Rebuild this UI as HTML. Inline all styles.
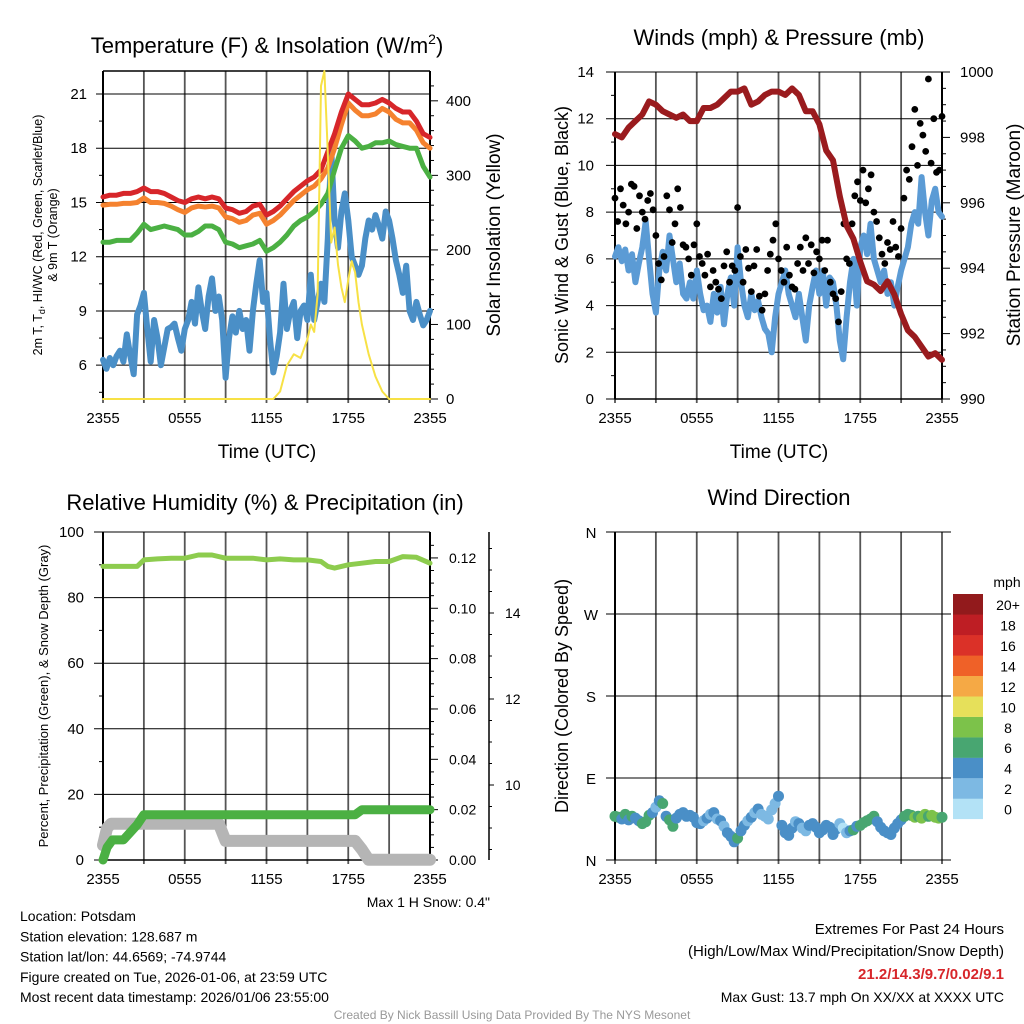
<!DOCTYPE html>
<html><head><meta charset="utf-8"><style>
body{margin:0;background:#fff;}
svg{display:block;font-family:"Liberation Sans",sans-serif;}
</style></head><body>
<svg id="fig" width="1024" height="1024" viewBox="0 0 1024 1024">
<rect width="1024" height="1024" fill="#fff"/>
</svg>
<script>
// ---- data ----
const hours15 = Array.from({length:97},(_,i)=>i*0.25);
const hours30 = Array.from({length:49},(_,i)=>i*0.5);
const hours12 = Array.from({length:121},(_,i)=>i*0.2);
const tempRed = [15.3,15.4,15.4,15.5,15.5,15.6,15.8,15.6,15.6,15.5,15.3,15.1,15.0,15.2,15.3,15.2,15.3,15.2,14.7,14.6,14.4,14.5,14.8,14.9,14.3,14.5,14.8,15.2,15.6,15.9,16.2,16.4,16.8,17.8,18.8,20.0,21.0,20.7,20.4,20.4,20.5,20.7,20.5,20.2,20.0,20.0,19.5,18.8,18.6];
const tempOrange = [14.85,14.9,14.9,14.95,14.95,15.0,15.25,15.0,15.0,14.95,14.8,14.6,14.45,14.7,14.8,14.75,14.8,14.7,14.2,14.1,13.9,14.0,14.3,14.4,13.8,14.0,14.3,14.7,15.1,15.4,15.7,15.9,16.3,16.9,18.0,19.3,20.5,20.1,19.8,19.8,19.9,20.2,20.0,19.6,19.4,19.4,19.0,18.3,18.0];
const tempGreen = [12.8,12.8,12.9,12.9,12.9,13.3,13.8,13.5,13.6,13.7,13.6,13.5,13.2,13.2,13.4,13.7,13.7,13.5,12.8,12.7,12.5,12.6,12.7,12.9,12.3,12.5,12.8,13.2,13.7,14.0,14.2,14.5,14.9,15.5,16.8,18.0,18.7,18.4,18.0,18.1,18.3,18.3,18.4,18.2,18.1,18.0,18.0,17.0,16.4];
const dewBlue = [6.3,5.8,6.4,6.0,6.5,6.8,6.2,7.7,6.5,5.5,8.8,9.3,10.0,8.0,6.2,8.5,7.5,6.0,7.0,8.0,8.1,8.3,7.5,6.8,8.0,8.5,9.5,8.3,10.3,9.0,8.0,9.8,10.8,9.0,9.8,8.5,5.3,7.5,8.7,7.8,9.0,8.0,8.5,6.8,9.0,10.5,11.8,9.5,10.0,7.5,5.6,6.5,7.8,10.5,8.0,9.0,9.5,7.5,9.0,9.3,8.5,11.0,8.5,9.5,10.5,9.5,13.0,18.0,14.0,12.5,14.5,15.5,14.0,12.0,11.5,11.0,11.5,13.0,14.0,13.5,14.3,13.7,13.0,14.5,14.0,13.0,11.8,11.0,10.0,11.5,9.0,8.5,9.5,8.8,8.2,8.5,9.0];
const solarHours = [0,12.5,13,13.5,14,14.5,15,15.25,15.5,15.75,16,16.25,16.5,16.75,17,17.25,17.5,17.75,18,18.25,18.5,18.75,19,19.5,20,20.5,21,24];
const solarValues = [0,0,10,45,60,55,80,100,90,140,420,440,330,210,230,180,150,130,160,185,170,130,100,60,30,10,0,0];
const windBlue = [6.1,6.5,5.9,6.4,5.5,6.2,5.0,5.8,6.5,7.6,6.0,4.5,3.7,5.5,6.3,5.5,7.0,6.0,5.0,5.8,4.5,4.3,5.0,4.3,5.5,4.5,3.8,4.0,3.3,4.5,3.7,4.8,3.2,4.5,5.2,4.0,6.5,5.0,4.0,3.5,4.5,3.8,4.2,3.5,3.0,2.8,2.0,3.5,4.5,5.0,5.5,4.5,4.0,3.5,4.5,3.5,2.5,4.0,4.8,5.5,4.5,5.5,4.0,5.2,5.0,4.0,2.5,1.7,3.5,5.0,6.0,4.0,6.5,7.0,6.2,7.5,6.0,5.5,5.0,5.5,4.5,5.0,4.0,4.8,5.5,6.0,6.5,7.5,8.0,7.5,9.5,8.0,7.0,8.5,9.0,8.0,7.8];
const gustBlack = [8.6,7.6,9.0,8.3,7.5,8.0,9.2,9.1,7.3,8.7,8.0,7.7,8.5,8.8,8.1,7.0,5.8,5.1,6.1,8.7,8.1,6.7,7.5,9.0,8.2,6.6,6.5,6.0,5.3,6.6,7.5,6.1,5.8,5.3,6.2,4.8,5.5,5.0,4.7,4.3,5.7,6.3,5.0,5.7,5.5,8.2,6.1,5.0,6.4,5.6,4.6,5.7,6.4,4.4,3.8,4.5,5.5,6.2,6.8,7.5,6.0,5.5,5.0,6.5,5.3,4.8,4.7,5.8,6.5,5.5,6.9,5.8,6.6,5.4,6.3,6.0,6.8,5.5,6.8,5.0,4.5,4.3,3.3,4.6,7.5,6.0,5.8,7.5,8.7,9.3,8.5,9.8,8.4,9.0,9.6,8.0,7.6,6.9,6.2,5.8,6.7,6.4,7.6,6.5,6.1,7.3,8.6,9.8,9.4,10.8,12.4,10.0,11.8,11.3,10.6,13.7,10.1,12.0,9.7,9.8,12.1];
const pressure = [998.1,998.0,998.3,998.5,998.7,999.1,999.0,998.8,998.7,998.6,998.7,998.5,998.5,998.9,998.9,999.0,999.2,999.4,999.4,999.5,999.0,999.1,999.3,999.4,999.4,999.3,999.5,999.3,998.8,998.8,998.4,997.6,997.3,996.2,995.3,994.9,994.2,993.6,993.5,993.3,993.6,993.2,992.6,992.1,991.9,991.6,991.3,991.4,991.2];
const rhHours = [0,1,2,2.5,3,4,5,6,7,8,9,10,11,12,13,14,15,16,16.5,17,18,19,20,21,22,23,24];
const rhValues = [89.5,89.5,89.5,89.5,91.5,91.8,92,92,93,93,92,92,92,91.5,91.8,91.5,91.5,91,89.5,89.0,90,90.5,91,91,92.5,92.3,90.5];
const precipHours = [0,0.3,0.7,1.5,2,2.5,3,18.5,19,24];
const precipValues = [0,0.005,0.008,0.008,0.011,0.014,0.018,0.018,0.020,0.020];
const snowHours = [0,0.3,0.6,8.5,9,18.5,19,19.5,24];
const snowValues = [8.6,9.0,9.1,9.1,8.7,8.7,8.5,8.26,8.26];
const windDir = [48,47,45,50,44,48,46,43,40,42,49,52,58,65,62,48,44,37,46,50,52,48,49,47,41,40,43,46,50,52,45,43,37,30,26,20,24,32,38,43,47,52,56,50,48,45,55,62,70,38,30,27,35,42,40,35,32,38,40,36,30,33,38,36,28,34,40,35,30,32,33,37,38,41,43,45,48,42,36,32,30,28,35,40,44,48,50,49,47,48,46,50,48,49,47,46,47];
const xTickLabels = ["2355","0555","1155","1755","2355"];
const cbLabels = ["0","2","4","6","8","10","12","14","16","18","20+"];
const cbColors = ["#b3e2f6","#7db9e3","#4a8fc7","#48a671","#7cc24a","#e6e05a","#f5a945","#ef6128","#db3128","#be1e24","#921a1c"];

// ---- helpers ----
const NS="http://www.w3.org/2000/svg";
const fig=document.getElementById('fig');
function mk(tag,attrs,parent){const e=document.createElementNS(NS,tag);for(const k in attrs)e.setAttribute(k,attrs[k]);(parent||fig).appendChild(e);return e;}
function txt(s,x,y,size,anchor,extra){const e=mk('text',Object.assign({x:x,y:y,'font-size':size,'text-anchor':anchor||'middle',fill:'#000'},extra||{}));e.textContent=s;return e;}
function lin(a,b,c,d,col,w){return mk('line',{x1:a,y1:b,x2:c,y2:d,stroke:col,'stroke-width':w});}
function scale(d0,d1,r0,r1){return v=>r0+(v-d0)/(d1-d0)*(r1-r0);}
const X0=103,X1=430,X2=615,X3=942;
const xL=scale(0,24,X0,X1), xR=scale(0,24,X2,X3);
function path(xs,ys,fx,fy,col,w,name){let d='';xs.forEach((h,i)=>{d+=(i?'L':'M')+fx(h).toFixed(1)+','+fy(ys[i]).toFixed(1);});const p=mk('path',{d:d,fill:'none',stroke:col,'stroke-width':w,'stroke-linejoin':'round','stroke-linecap':'round'});


return p;}
function vgrid(fx,y0,y1){for(let i=0;i<=8;i++){const x=fx(i*3);lin(x,y0,x,y1+4,'#555',1.8);}}
function xticks(fx,y){xTickLabels.forEach((s,i)=>{const t=txt(s,fx(i*6),y,15);

});}

// ---- Panel 1: temperature ----
const yT=scale(4.13,22.27,399,71), yS=scale(0,440,399,71);
vgrid(xL,71,399);
[6,9,12,15,18,21].forEach(v=>{lin(X0-7,yT(v),X1,yT(v),'#000',1);txt(String(v),87,yT(v)+5,15,'end');});
for(let v=4.5;v<22;v+=1.5){if(v%3)lin(X0-4,yT(v),X0,yT(v),'#000',1);}
[0,100,200,300,400].forEach(v=>{lin(X1,yS(v),X1+8,yS(v),'#000',1);txt(String(v),446,yS(v)+5,15,'start');});
for(let v=20;v<440;v+=20){if(v%100)lin(X1,yS(v),X1+4,yS(v),'#000',1);}
lin(X0,71,X1,71,'#000',1.5);lin(X0,71,X0,399,'#000',2);lin(X1,71,X1,399,'#000',2);lin(X0,399,X1,399,'#000',1.5);
path(hours15,dewBlue,xL,yT,'#4a8fc7',6,'dewpoint-line');
path(hours30,tempGreen,xL,yT,'#4bb043',5,'heat-index-line');
path(hours30,tempOrange,xL,yT,'#f5822f',5,'temp-9m-line');
path(hours30,tempRed,xL,yT,'#d7262a',5,'temp-2m-line');
path(solarHours,solarValues,xL,yS,'#f7e145',2,'insolation-line');
xticks(xL,423);
let tt=mk('text',{x:267,y:53,'font-size':22,'text-anchor':'middle'});


tt.innerHTML='Temperature (F) &amp; Insolation (W/m<tspan dy="-9" font-size="14">2</tspan><tspan dy="9">)</tspan>';
txt('Time (UTC)',267,458,19);
let g=mk('g',{transform:'translate(42,235) rotate(-90)'});
let t1=mk('text',{x:0,y:0,'font-size':12.5,'text-anchor':'middle'},g);
t1.innerHTML='2m T, T<tspan dy="3" font-size="9">d</tspan><tspan dy="-3">, HI/WC (Red, Green, Scarlet/Blue)</tspan>';
mk('text',{x:0,y:15,'font-size':12.5,'text-anchor':'middle'},g).textContent='& 9m T (Orange)';
g=mk('g',{transform:'translate(500,235) rotate(-90)'});
mk('text',{x:0,y:0,'font-size':19,'text-anchor':'middle'},g).textContent='Solar Insolation (Yellow)';

// ---- Panel 2: winds ----
const yW=scale(0,14,399,72), yP=scale(990,1000,399,72);
vgrid(xR,72,399);
[0,2,4,6,8,10,12,14].forEach(v=>{lin(X2-9,yW(v),X3,yW(v),'#000',1);txt(String(v),594,yW(v)+5,15,'end');});
for(let v=1;v<14;v+=2)lin(X2-4,yW(v),X2,yW(v),'#000',1);
[990,992,994,996,998,1000].forEach(v=>{lin(X3,yP(v),X3+8,yP(v),'#000',1);txt(String(v),960,yP(v)+5,15,'start');});
for(let v=990.5;v<1000;v+=0.5){if(v%2)lin(X3,yP(v),X3+4,yP(v),'#000',1);}
lin(X2,72,X2,399,'#000',2);lin(X3,72,X3,399,'#000',2);lin(X2,399,X3,399,'#000',1.5);
path(hours15,windBlue,xR,yW,'#5b9bd5',6,'sonic-wind-line');
gustBlack.forEach((v,i)=>{const c=mk('circle',{cx:xR(hours12[i]).toFixed(1),cy:yW(v).toFixed(1),r:3.4,fill:'#000'});

});
path(hours30,pressure,xR,yP,'#9a1b1e',6,'pressure-line');
xticks(xR,423);
txt('Winds (mph) & Pressure (mb)',779,45,22);
txt('Time (UTC)',779,458,19);
g=mk('g',{transform:'translate(568,235) rotate(-90)'});
mk('text',{x:0,y:0,'font-size':18,'text-anchor':'middle'},g).textContent='Sonic Wind & Gust (Blue, Black)';
g=mk('g',{transform:'translate(1020,235) rotate(-90)'});
mk('text',{x:0,y:0,'font-size':19,'text-anchor':'middle'},g).textContent='Station Pressure (Maroon)';

// ---- Panel 3: RH ----
const yH=scale(0,100,860,532), yPr=scale(0,0.1303,860,532), ySn=scale(10,12,785,699);
vgrid(xL,532,860);
[0,20,40,60,80,100].forEach(v=>{lin(X0-9,yH(v),X1,yH(v),'#000',1);txt(String(v),84,yH(v)+5,15,'end');});
for(let v=10;v<100;v+=20)lin(X0-4,yH(v),X0,yH(v),'#000',1);
[0,0.02,0.04,0.06,0.08,0.10,0.12].forEach(v=>{lin(X1,yPr(v),X1+8,yPr(v),'#000',1);txt(v.toFixed(2),449,yPr(v)+5,14,'start');});
for(let v=0.005;v<0.13;v+=0.005){if(Math.abs((v*100)%2)>0.1)lin(X1,yPr(v),X1+4,yPr(v),'#000',1);}
lin(X0,532,X0,860,'#000',2);lin(X1,532,X1,860,'#000',2);lin(X0,860,X1,860,'#000',1.5);
lin(489,532,489,860,'#000',1.5);
[10,12,14].forEach(v=>{lin(489,ySn(v),494,ySn(v),'#000',1);txt(String(v),505,ySn(v)+5,14,'start');});
for(let v=8.5;v<16;v+=0.5){if(v%2)lin(489,ySn(v),492,ySn(v),'#000',1);}
path(snowHours,snowValues,xL,ySn,'#b5b5b5',12,'snow-depth-line');
path(precipHours,precipValues,xL,yPr,'#4bb043',9,'precip-line');
path(rhHours,rhValues,xL,yH,'#8dcc4e',5,'rh-line');
xticks(xL,884);
txt('Relative Humidity (%) & Precipitation (in)',265,510,22);
g=mk('g',{transform:'translate(48,696) rotate(-90)'});
mk('text',{x:0,y:0,'font-size':13,'text-anchor':'middle'},g).textContent='Percent, Precipitation (Green), & Snow Depth (Gray)';
txt('Max 1 H Snow: 0.4"',490,907,14,'end');

// ---- Panel 4: wind direction ----
const yD=scale(0,360,860,532);
vgrid(xR,532,860);
[['N',0],['E',90],['S',180],['W',270],['N',360]].forEach(([s,v])=>{lin(606,yD(v),951,yD(v),'#000',1);txt(s,591,yD(v)+6,15,'middle');});
lin(X2,532,X2,860,'#000',2);
function spdColor(s){return cbColors[Math.min(10,Math.floor(s/2))];}
windDir.forEach((v,i)=>{const c=mk('circle',{cx:xR(hours15[i]).toFixed(1),cy:yD(v).toFixed(1),r:5.5,fill:spdColor(windBlue[i])});

});
xticks(xR,884);
txt('Wind Direction',779,505,22);
g=mk('g',{transform:'translate(568,696) rotate(-90)'});
mk('text',{x:0,y:0,'font-size':18,'text-anchor':'middle'},g).textContent='Direction (Colored By Speed)';
txt('mph',1007,587,14);
cbColors.forEach((c,i)=>{const y=819-(i+1)*20.45;const r=mk('rect',{x:953,y:y.toFixed(1),width:30,height:20.6,fill:c});


txt(cbLabels[i],1008,y+16,14,'middle');});

// ---- footer ----
['Location: Potsdam','Station elevation: 128.687 m','Station lat/lon: 44.6569; -74.9744','Figure created on Tue, 2026-01-06, at 23:59 UTC','Most recent data timestamp: 2026/01/06 23:55:00'].forEach((s,i)=>txt(s,20,921+i*20.3,14,'start'));
txt('Extremes For Past 24 Hours',1004,934,15,'end');
txt('(High/Low/Max Wind/Precipitation/Snow Depth)',1004,956,15,'end');
txt('21.2/14.3/9.7/0.02/9.1',1004,979,15,'end',{fill:'#d7262a','font-weight':'bold'});
txt('Max Gust: 13.7 mph On XX/XX at XXXX UTC',1004,1002,14,'end');
txt('Created By Nick Bassill Using Data Provided By The NYS Mesonet',512,1019,12,'middle',{fill:'#999'});
</script>
</body></html>
